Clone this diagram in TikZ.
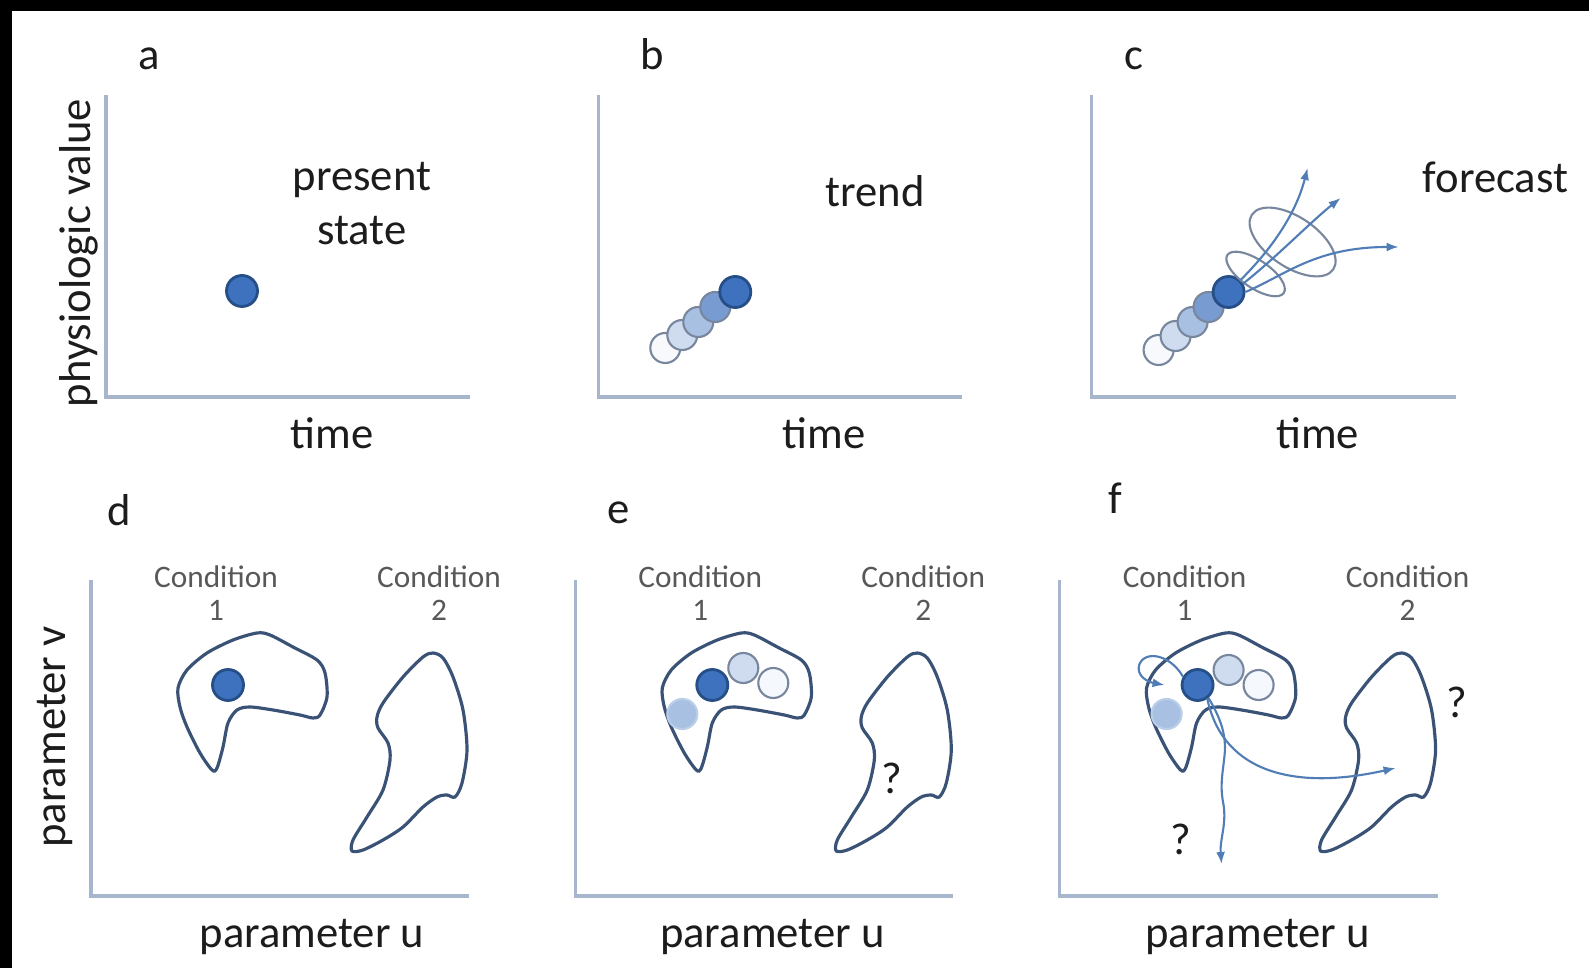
\documentclass[tikz,border=0pt]{standalone}
\usepackage{fontspec}
\setmainfont{Carlito}
\usepackage{tikz}
\usetikzlibrary{arrows.meta,calc}
\definecolor{AzulPunto}{RGB}{62,114,190}
\definecolor{BordePunto}{RGB}{38,78,135}
\definecolor{BordeRastro}{RGB}{120,134,158}
\definecolor{EjeGris}{RGB}{168,182,205}
\definecolor{ContornoAzul}{RGB}{58,82,118}
\definecolor{FlechaAzul}{RGB}{80,125,182}
\definecolor{TextoGris}{RGB}{88,88,88}
\definecolor{TextoNegro}{RGB}{28,28,28}
% contornos de las dos condiciones (coordenadas del panel d)
\newcommand{\ContornoUno}{plot[smooth cycle,tension=0.5] coordinates {(178,688) (187,670) (207,653) (233,640) (257,633) (270,635) (293,647) (317,660) (325,673) (327,697) (320,715) (313,718) (300,715) (273,710) (250,707) (237,710) (228,723) (223,747) (217,768) (212,770) (200,753) (187,727) (180,707)}}
\newcommand{\ContornoDos}{plot[smooth cycle,tension=0.5] coordinates {(433,653) (443,658) (453,677) (463,710) (467,750) (462,783) (455,797) (447,795) (437,797) (423,807) (403,827) (383,840) (363,850) (352,851) (353,840) (367,817) (383,790) (390,760) (388,743) (378,728) (377,717) (383,703) (403,677) (423,657)}}

\begin{document}
\begin{tikzpicture}[x=0.01cm,y=-0.01cm,>={Latex[length=1.2mm,width=0.9mm]},
  punto/.style={circle,draw=BordePunto,fill=AzulPunto,line width=0.8pt,minimum size=3.1mm,inner sep=0pt},
  rastro/.style={circle,draw=BordeRastro,line width=0.6pt,minimum size=3.0mm,inner sep=0pt},
  eje/.style={draw=EjeGris,line width=1pt},
  contorno/.style={draw=ContornoAzul,line width=0.9pt},
  anillo/.style={draw=BordeRastro,line width=0.6pt},
  flecha/.style={->,draw=FlechaAzul,line width=0.6pt},
  rotulo/.style={anchor=base,text=TextoNegro,font=\fontsize{12.7}{15.6}\selectfont},
  condicion/.style={anchor=base,align=center,text=TextoGris,font=\fontsize{8.9}{9.6}\selectfont}]
  % marco
  \fill[black] (0,0) rectangle (1589,968);
  \fill[white] (12,11) rectangle (1589,968);
  % a: estado actual
  \draw[eje] (106,95) -- (106,397) -- (470,397);
  \node[rotulo] (letraA) at (149,70) {a};
  \node[rotulo,rotate=90] (ejeFisio) at (90,253) {physiologic value};
  \node[rotulo,align=center] (presente) at (362,245) {present\\state};
  \node[rotulo] (tiempoA) at (332,449) {time};
  \node[punto] (actualA) at (242,291) {};
  % b: tendencia
  \begin{scope}[xshift=4.92cm]
    \draw[eje] (106,95) -- (106,397) -- (470,397);
    \node[rotulo] (letraB) at (160,70) {b};
    \node[rotulo] (tendencia) at (383,207) {trend};
    \node[rotulo] (tiempoB) at (332,449) {time};
    \foreach \dx/\dy/\tono [count=\i] in {-70/56/4,-53/43/25,-37/30/45,-20/15/70}
      \node[rastro,fill=AzulPunto!\tono!white] (rastroB\i) at (243+\dx,292+\dy) {};
    \node[punto] (actualB) at (243,292) {};
  \end{scope}
  % c: pronostico
  \begin{scope}[xshift=9.85cm]
    \draw[eje] (106,95) -- (106,397) -- (470,397);
    \node[rotulo] (letraC) at (148,70) {c};
    \node[rotulo] (pronostico) at (510,193) {forecast};
    \node[rotulo] (tiempoC) at (332,449) {time};
    \foreach \dx/\dy/\tono [count=\i] in {-70/58/4,-53/44/25,-36/30/45,-20/15/70}
      \node[rastro,fill=AzulPunto!\tono!white] (rastroC\i) at (243+\dx,292+\dy) {};
    \node[punto] (actualC) at (243,292) {};
    \draw[anillo,rotate around={-34:(270,274)}] (270,274) ellipse [x radius=3.4mm,y radius=1.4mm];
    \draw[anillo,rotate around={-34:(307,242)}] (307,242) ellipse [x radius=4.9mm,y radius=2.5mm];
    \coordinate (destinoC1) at (322,168);
    \coordinate (destinoC2) at (355,198);
    \coordinate (destinoC3) at (413,247);
    \draw[flecha] (actualC.north east) .. controls (285,250) and (310,215) .. (destinoC1);
    \draw[flecha] (actualC.30) .. controls (290,258) and (325,222) .. (destinoC2);
    \draw[flecha] (actualC.east) .. controls (300,275) and (330,247) .. (destinoC3);
  \end{scope}
  % d: condiciones
  \draw[eje] (91,580) -- (91,896) -- (469,896);
  \node[rotulo] (letraD) at (119,526) {d};
  \node[rotulo,rotate=90] (ejeV) at (65,737) {parameter v};
  \node[condicion] (condD1) at (216,621) {Condition\\1};
  \node[condicion] (condD2) at (439,621) {Condition\\2};
  \draw[contorno] \ContornoUno;
  \draw[contorno] \ContornoDos;
  \node[punto] (actualD) at (228,685) {};
  \node[rotulo] (parametroD) at (312,947) {parameter u};
  % e
  \begin{scope}[xshift=4.84cm]
    \draw[eje] (91,580) -- (91,896) -- (469,896);
    \node[rotulo] (letraE) at (134,524) {e};
    \node[condicion] (condE1) at (216,621) {Condition\\1};
    \node[condicion] (condE2) at (439,621) {Condition\\2};
    \draw[contorno] \ContornoUno;
    \draw[contorno] \ContornoDos;
    \node[rastro,draw=AzulPunto!35!white,fill=AzulPunto!45!white] (previoE1) at (198,714) {};
    \node[rastro,fill=AzulPunto!25!white] (previoE2) at (259,668) {};
    \node[rastro,fill=AzulPunto!5!white] (previoE3) at (289,683) {};
    \node[punto] (actualE) at (228,685) {};
    \node[rotulo] (dudaE) at (408,794) {?};
    \node[rotulo] (parametroE) at (288,947) {parameter u};
  \end{scope}
  % f
  \begin{scope}[xshift=9.68cm]
    \draw[eje] (91,580) -- (91,896) -- (469,896);
    \node[rotulo] (letraF) at (147,514) {f};
    \node[condicion] (condF1) at (216,621) {Condition\\1};
    \node[condicion] (condF2) at (439,621) {Condition\\2};
    \draw[contorno] \ContornoUno;
    \draw[contorno] \ContornoDos;
    \node[rastro,draw=AzulPunto!35!white,fill=AzulPunto!45!white] (previoF1) at (198,714) {};
    \node[rastro,fill=AzulPunto!25!white] (previoF2) at (260,670) {};
    \node[rastro,fill=AzulPunto!5!white] (previoF3) at (290,685) {};
    \node[punto] (actualF) at (229,685) {};
    \coordinate (cierreF) at (196,685);
    \coordinate (destinoF) at (427,768);
    \coordinate (abajoF) at (253,864);
    \draw[flecha] (actualF.150) .. controls (200,652) and (172,650) .. (170,668) .. controls (170,680) and (185,683) .. (cierreF);
    \draw[flecha] (actualF.-55) .. controls (255,775) and (330,790) .. (destinoF);
    \draw[flecha] (actualF.-50) .. controls (252,718) and (258,735) .. (256,755) .. controls (254,775) and (251,785) .. (255,805) .. controls (258,825) and (251,840) .. (abajoF);
    \node[rotulo] (dudaF1) at (488,718) {?};
    \node[rotulo] (dudaF2) at (212,854) {?};
    \node[rotulo] (parametroF) at (289,947) {parameter u};
  \end{scope}
\end{tikzpicture}
\end{document}
